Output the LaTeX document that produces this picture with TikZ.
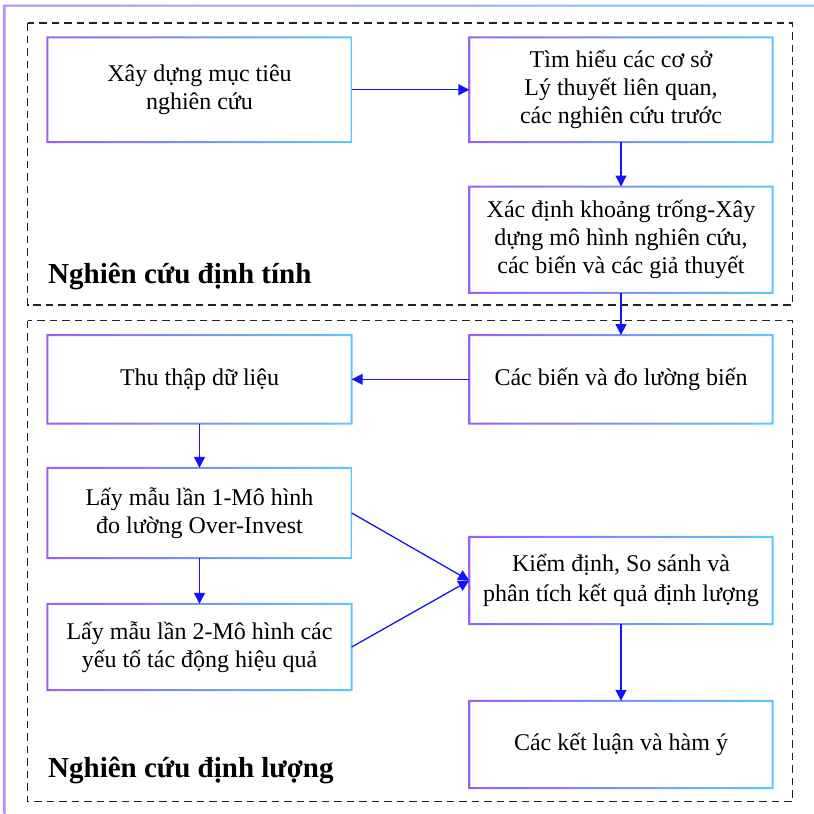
\documentclass[tikz,border=0pt]{standalone}
\usepackage{fontspec}
\setmainfont{Liberation Serif}
\usetikzlibrary{arrows.meta}
\definecolor{gpurple}{RGB}{155,95,245}
\definecolor{gcyan}{RGB}{90,200,250}
\definecolor{olav}{RGB}{180,140,250}
\definecolor{oblue}{RGB}{130,200,250}
\definecolor{flow}{RGB}{20,20,250}
\definecolor{dashc}{RGB}{35,35,35}
\begin{document}
\begin{tikzpicture}[x=1pt,y=-1pt,
  box/.style={inner sep=0pt, align=center, font=\fontsize{24}{28}\selectfont},
  flowarrow/.style={draw=flow, line width=1.3pt, -{Triangle[length=11pt,width=11pt]}},
  dbox/.style={draw=dashc, line width=1.6pt, dash pattern=on 7.5pt off 5pt},
  lbl/.style={anchor=base west, inner sep=0pt, font=\fontsize{29}{34}\selectfont\bfseries}]
\useasboundingbox (0,0) rectangle (814,814);
\clip (0,0) rectangle (814,814);
% outer frame
\shade[left color=olav, right color=oblue, even odd rule]
  (3.5,4.5) rectangle (830,830) (5.5,6.5) rectangle (828,828);
% dashed groups
\draw[dbox] (27.5,23) rectangle (792.5,305);
\draw[dbox] (27.5,320.5) rectangle (792.5,801.5);
% boxes
\node[box, minimum width=304pt, minimum height=104.5pt] (b1) at (199.5,89.75) {Xây dựng mục tiêu\\nghiên cứu};
\node[box, minimum width=303pt, minimum height=104.5pt] (b2) at (621,89.75) {Tìm hiểu các cơ sở\\Lý thuyết liên quan,\\các nghiên cứu trước};
\node[box, minimum width=303pt, minimum height=106pt] (b3) at (621,239.7) {Xác định khoảng trống-Xây\\dựng mô hình nghiên cứu,\\các biến và các giả thuyết};
\node[box, minimum width=303pt, minimum height=88pt] (b4) at (621,379.3) {Các biến và đo lường biến};
\node[box, minimum width=304pt, minimum height=88pt] (b5) at (199.5,379.3) {Thu thập dữ liệu};
\node[box, minimum width=304pt, minimum height=90pt] (b6) at (199.5,513) {Lấy mẫu lần 1-Mô hình\\đo lường Over-Invest};
\node[box, minimum width=304pt, minimum height=86pt] (b7) at (199.5,647) {Lấy mẫu lần 2-Mô hình các\\yếu tố tác động hiệu quả};
\node[box, minimum width=303pt, minimum height=87pt] (b8) at (621,580.5) {Kiểm định, So sánh và\\[2pt]phân tích kết quả định lượng};
\node[box, minimum width=303pt, minimum height=87pt] (b9) at (621,744.5) {Các kết luận và hàm ý};
% gradient borders
\foreach \n in {b1,b2,b3,b4,b5,b6,b7,b8,b9}{
  \shade[left color=gpurple, right color=gcyan, even odd rule]
    ([shift={(-1pt,-1pt)}]\n.south west) rectangle ([shift={(1pt,1pt)}]\n.north east)
    ([shift={(1pt,1pt)}]\n.south west) rectangle ([shift={(-1pt,-1pt)}]\n.north east);
}
% group labels
\node[lbl] (l1) at (48,283.5) {Nghiên cứu định tính};
\node[lbl] (l2) at (48,777) {Nghiên cứu định lượng};
% connectors
\draw[flowarrow] (b1.east) -- (b2.west);
\draw[flowarrow] (b2.south) -- (b3.north);
\draw[flowarrow] (b3.south) -- (b4.north);
\draw[flowarrow] (b4.west) -- (b5.east);
\draw[flowarrow] (b5.south) -- (b6.north);
\draw[flowarrow] (b6.south) -- (b7.north);
\draw[flowarrow] (b6.east) -- (b8.west);
\draw[flowarrow] (b7.east) -- (b8.west);
\draw[flowarrow] (b8.south) -- (b9.north);
\end{tikzpicture}
\end{document}
